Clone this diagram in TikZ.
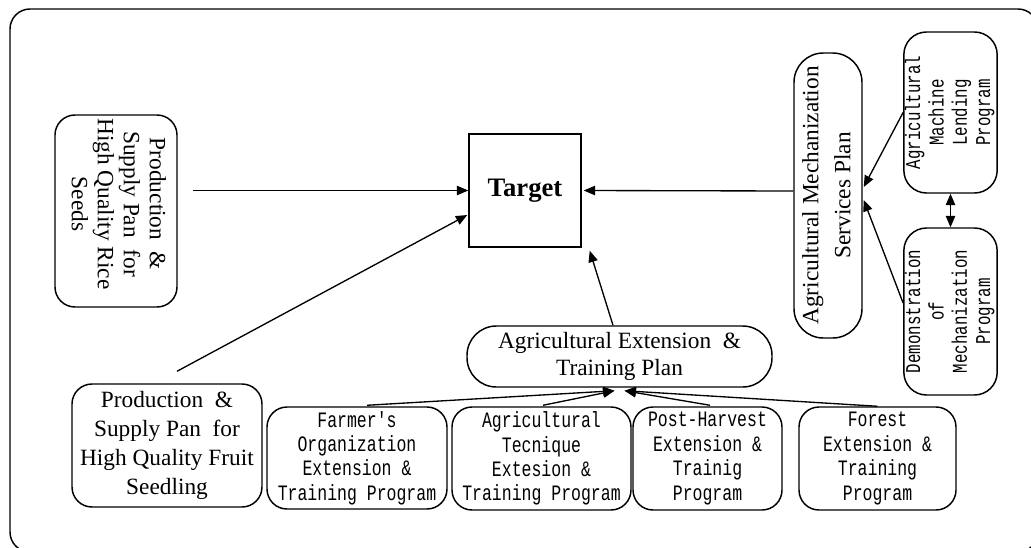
\documentclass[tikz,border=0pt]{standalone}
\usepackage{fontspec}
\usepackage{graphicx}
\setmainfont{Liberation Serif}
\setmonofont[FakeStretch=0.75]{Liberation Mono}
\usetikzlibrary{arrows.meta,calc}
\begin{document}
\begin{tikzpicture}[x=0.75pt,y=-0.75pt,
  box/.style={draw,line width=1.1pt,rounded corners=15pt,inner sep=0pt,align=center},
  sq/.style={draw,line width=1.1pt,inner sep=0pt},
  arr/.style={line width=1pt,-{Triangle[length=8.5pt,width=7pt]}},
  dbl/.style={line width=1pt,{Triangle[length=8.5pt,width=7pt]}-{Triangle[length=8.5pt,width=7pt]}},
  serif/.style={font=\fontsize{17.5}{21.7}\selectfont},
  mono/.style={font=\ttfamily\fontsize{16.5}{18.3}\selectfont},
  rmono/.style={font=\ttfamily\fontsize{15.8}{17.5}\selectfont},
]
\useasboundingbox (0,0) rectangle (1031,547);
\begin{scope}
\clip (0,0) rectangle (1031,547);
\draw[line width=1.1pt, rounded corners=15pt] (10,9) rectangle (1038,552);
\end{scope}

% nodes
\node[sq, minimum width=84pt, minimum height=84.75pt, font=\bfseries\fontsize{20}{24}\selectfont] (target) at (525,190.5) {Target};

\node[box, minimum width=91.5pt, minimum height=144pt, font=\fontsize{17.5}{19.5}\selectfont] (rice) at (116,211)
  {\rotatebox{-90}{\begin{tabular}{@{}c@{\hspace{10.5pt}}}Production \ \&\\Supply Pan \ for\\High Quality Rice\\Seeds\end{tabular}}};

\node[box, serif, minimum width=142.5pt, minimum height=92.25pt] (fruit) at (167,445.5)
  {Production \ \&\\Supply Pan \ for\\High Quality Fruit\\Seedling};

\node[box, rounded corners=22pt, minimum width=228.75pt, minimum height=45.75pt, font=\fontsize{17.5}{20.5}\selectfont] (ext) at (619.5,356.5)
  {Agricultural Extension \ \&\\Training Plan};

\node[box, rounded corners=22pt, minimum width=51pt, minimum height=213.75pt, font=\fontsize{17.5}{24}\selectfont] (mech) at (828,195.5)
  {\rotatebox{90}{\begin{tabular}{@{}c@{}}Agricultural Mechanization\\Services Plan\end{tabular}}};

\node[box, rounded corners=17pt, rmono, minimum width=66.75pt, minimum height=120.75pt] (lend) at (950.5,112.5)
  {\rotatebox{90}{\begin{tabular}{@{}c@{}}Agricultural\\Machine\\Lending\\Program\end{tabular}}};

\node[box, rounded corners=17pt, rmono, minimum width=66.75pt, minimum height=125.25pt] (demo) at (950.5,311.5)
  {\rotatebox{90}{\begin{tabular}{@{}c@{}}Demonstration\\of\\Mechanization\\Program\end{tabular}}};

\node[box, mono, minimum width=135pt, minimum height=76.5pt] (farmer) at (357,458)
  {Farmer's\\Organization\\Extension \&\\Training Program};
\node[box, mono, minimum width=134.25pt, minimum height=77.25pt] (tech) at (541.5,458.5)
  {Agricultural\\Tecnique\\Extesion \&\\Training Program};
\node[box, mono, minimum width=111.75pt, minimum height=77.25pt] (post) at (707.5,458.5)
  {Post-Harvest\\Extension \&\\Trainig\\Program};
\node[box, mono, minimum width=117.75pt, minimum height=77.25pt] (forest) at (877.5,458.5)
  {Forest\\Extension \&\\Training\\Program};

% connectors
\draw[arr] ($(rice.east)+(15,-20.5)$) -- (target.west);
\draw[arr] ($(fruit.north)+(10,-12)$) -- ($(target.west)+(-1,24.5)$);
\draw[arr] ($(ext.north)+(-6.5,0)$) -- ($(target.south east)+(8,3)$);
\draw[arr] ($(mech.west)+(0,-4.5)$) -- ($(target.east)+(2,0)$);
\draw[arr] (lend.west) -- ($(mech.east)+(1,-8.5)$);
\draw[arr] ($(demo.west)+(0,-8.5)$) -- ($(mech.east)+(1,4.5)$);
\draw[dbl] (lend.south) -- (demo.north);
\draw[arr] ($(farmer.north)+(10,-1)$) -- ($(ext.south)+(-5,3)$);
\draw[arr] ($(tech.north)+(1.5,-1)$) -- ($(ext.south)+(-5,3)$);
\draw[arr] ($(post.north)+(2.5,-1)$) -- ($(ext.south)+(5,3)$);
\draw[arr] (forest.north) -- ($(ext.south)+(5,3)$);
\end{tikzpicture}
\end{document}
